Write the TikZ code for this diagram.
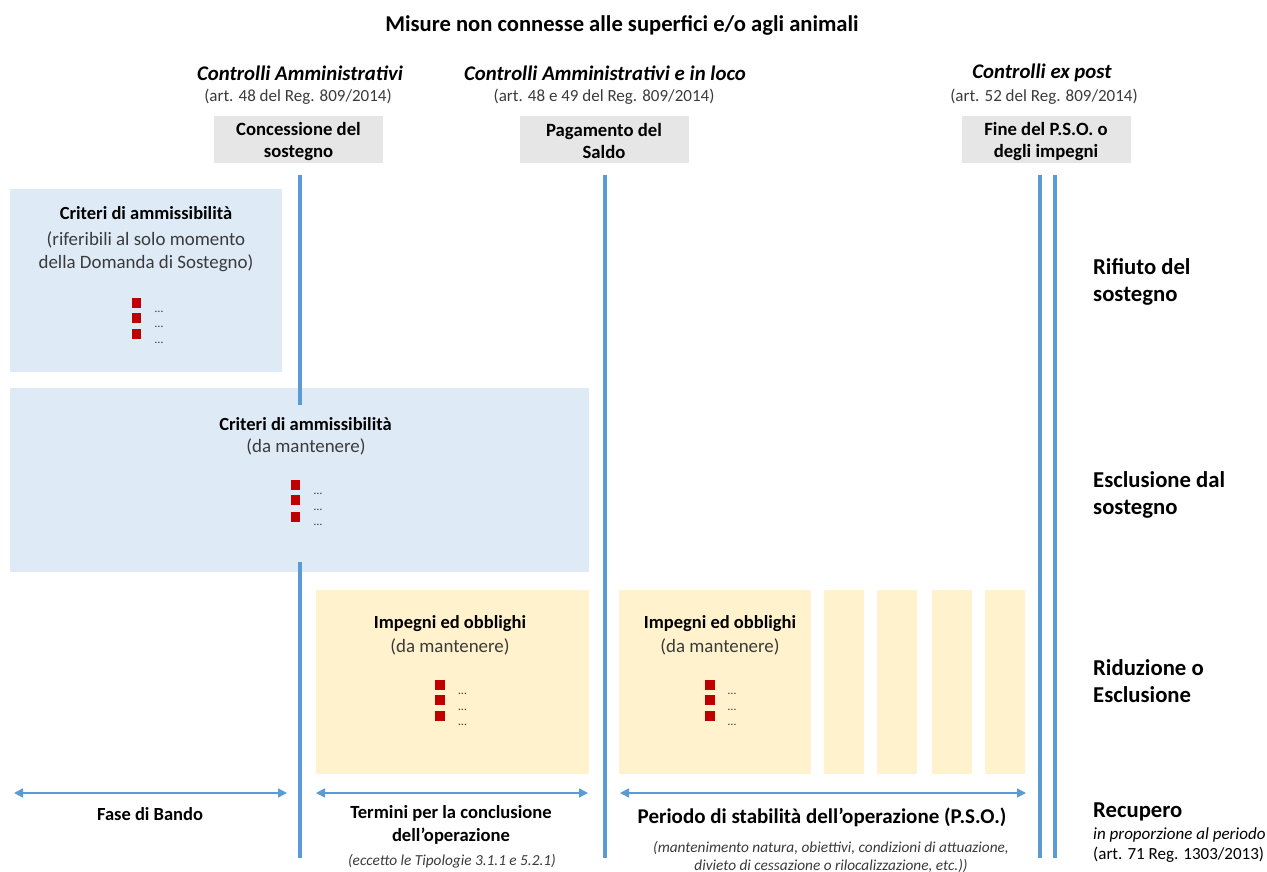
\documentclass[tikz,border=0pt]{standalone}
\usepackage{fontspec}
\setmainfont{Carlito}
\usetikzlibrary{arrows.meta}
\definecolor{lblue}{HTML}{DEEBF7}
\definecolor{lyellow}{HTML}{FFF2CC}
\definecolor{lgray}{HTML}{E7E6E6}
\definecolor{lineblue}{HTML}{5B9BD5}
\definecolor{sqred}{HTML}{C00000}
\definecolor{txtgray}{HTML}{3A3A3A}
\tikzset{
  txt/.style={inner sep=0pt, align=center, text=black},
  boxblue/.style={fill=lblue, draw=none, inner sep=0pt},
  boxyellow/.style={fill=lyellow, draw=none, inner sep=0pt},
  graybox/.style={fill=lgray, draw=none, inner sep=0pt, minimum width=169pt, minimum height=47pt},
  graytxt/.style={txt, font=\fontsize{18.7}{22}\selectfont\bfseries},
  vline/.style={draw=lineblue, line width=4pt},
  dimarrow/.style={draw=lineblue, line width=1.5pt, {Triangle[length=9pt,width=9pt]}-{Triangle[length=9pt,width=9pt]}},
  sq/.style={fill=sqred, draw=none, inner sep=0pt, minimum size=9.5pt},
  dots/.style={inner sep=0pt, font=\fontsize{12}{12}\selectfont, text=txtgray},
  boxtitle/.style={txt, font=\fontsize{18.5}{23}\selectfont\bfseries},
  boxsub/.style={txt, font=\fontsize{18.9}{23}\selectfont, text=txtgray},
  hdr/.style={txt, font=\fontsize{20.8}{24}\selectfont\bfseries\itshape},
  hsub/.style={txt, font=\fontsize{17}{20}\selectfont, text=txtgray},
  rlabel/.style={inner sep=0pt, align=left, anchor=west, font=\fontsize{22.7}{27}\selectfont\bfseries},
}
\begin{document}
\begin{tikzpicture}[x=1pt,y=-1pt]
\useasboundingbox (0,0) rectangle (1267,872);
% title
\node[txt, font=\fontsize{22.6}{26}\selectfont\bfseries] (title) at (622,25) {Misure non connesse alle superfici e/o agli animali};
% headers
\node[hdr] (h1) at (300,73) {Controlli Amministrativi};
\node[hsub] (s1) at (298,97) {(art. 48 del Reg. 809/2014)};
\node[hdr] (h2) at (605,73) {Controlli Amministrativi e in loco};
\node[hsub] (s2) at (604,97) {(art. 48 e 49 del Reg. 809/2014)};
\node[hdr] (h3) at (1042,73) {Controlli ex post};
\node[hsub] (s3) at (1044,97) {(art. 52 del Reg. 809/2014)};
% gray boxes
\node[graybox] (g1) at (298.5,139.5) {};
\node[graybox] (g2) at (604,139.5) {};
\node[graybox] (g3) at (1046,139.5) {};
\node[graytxt] (g1t) at (298.5,141.5) {Concessione del\\sostegno};
\node[graytxt] (g2t) at (604,141.5) {Pagamento del\\Saldo};
\node[graytxt] (g3t) at (1046,141.5) {Fine del P.S.O. o\\degli impegni};
% vertical lines (coordinates)
\coordinate (v1t) at (300,175); \coordinate (v1m) at (300,405);
\coordinate (v1n) at (300,562); \coordinate (v1b) at (300,858);
\coordinate (v2t) at (605,175); \coordinate (v2b) at (605,858);
\coordinate (v3t) at (1040,175); \coordinate (v3b) at (1040,858);
\coordinate (v4t) at (1055,175); \coordinate (v4b) at (1055,858);
% boxes
\node[boxblue, minimum width=272pt, minimum height=183pt] (bA) at (146,280.5) {};
\node[boxblue, minimum width=579pt, minimum height=184pt] (bB) at (299.5,480) {};
\node[boxyellow, minimum width=273pt, minimum height=184pt] (bC) at (452.5,682) {};
\node[boxyellow, minimum width=192pt, minimum height=184pt] (bD) at (715,682) {};
\node[boxyellow, minimum width=40pt, minimum height=184pt] (st1) at (844,682) {};
\node[boxyellow, minimum width=40pt, minimum height=184pt] (st2) at (897,682) {};
\node[boxyellow, minimum width=40pt, minimum height=184pt] (st3) at (951.5,682) {};
\node[boxyellow, minimum width=40pt, minimum height=184pt] (st4) at (1004.5,682) {};
% vertical lines
\draw[vline] (v1t) -- (v1m);
\draw[vline] (v1n) -- (v1b);
\draw[vline] (v2t) -- (v2b);
\draw[vline] (v3t) -- (v3b);
\draw[vline] (v4t) -- (v4b);
% box A content
\node[boxtitle] (tA) at (146,213) {Criteri di ammissibilità};
\node[boxsub] (sA) at (146,251.5) {(riferibili al solo momento\\della Domanda di Sostegno)};
\node[sq] (qA1) at (136.5,303) {};
\node[sq] (qA2) at (136.5,318) {};
\node[sq] (qA3) at (136.5,334) {};
\node[dots] (dA1) at (159,312) {…};
\node[dots] (dA2) at (159,327) {…};
\node[dots] (dA3) at (159,343) {…};
% box B content
\node[boxtitle] (tB) at (305.5,424) {Criteri di ammissibilità};
\node[boxsub] (sB) at (306,447) {(da mantenere)};
\node[sq] (qB1) at (295.5,485) {};
\node[sq] (qB2) at (295.5,500) {};
\node[sq] (qB3) at (295.5,517) {};
\node[dots] (dB1) at (318,494) {…};
\node[dots] (dB2) at (318,510) {…};
\node[dots] (dB3) at (318,525) {…};
% box C content
\node[boxtitle] (tC) at (450,624) {Impegni ed obblighi};
\node[boxsub] (sC) at (450,647) {(da mantenere)};
\node[sq] (qC1) at (440,685) {};
\node[sq] (qC2) at (440,700) {};
\node[sq] (qC3) at (440,716) {};
\node[dots] (dC1) at (462.5,694) {…};
\node[dots] (dC2) at (462.5,710) {…};
\node[dots] (dC3) at (462.5,725) {…};
% box D content
\node[boxtitle] (tD) at (720,624) {Impegni ed obblighi};
\node[boxsub] (sD) at (720,647) {(da mantenere)};
\node[sq] (qD1) at (710,685) {};
\node[sq] (qD2) at (710,700) {};
\node[sq] (qD3) at (710,716) {};
\node[dots] (dD1) at (732,694) {…};
\node[dots] (dD2) at (732,710) {…};
\node[dots] (dD3) at (732,725) {…};
% arrows
\coordinate (a1l) at (14,793); \coordinate (a1r) at (287,793);
\coordinate (a2l) at (316,793); \coordinate (a2r) at (588,793);
\coordinate (a3l) at (620,793); \coordinate (a3r) at (1026,793);
\draw[dimarrow] (a1l) -- (a1r);
\draw[dimarrow] (a2l) -- (a2r);
\draw[dimarrow] (a3l) -- (a3r);
% bottom labels
\node[txt, font=\fontsize{18.5}{22.5}\selectfont\bfseries] (l1) at (150,814) {Fase di Bando};
\node[txt, font=\fontsize{18.6}{22.5}\selectfont\bfseries] (l2) at (451,825) {Termini per la conclusione\\dell’operazione};
\node[txt, font=\fontsize{15.3}{18}\selectfont\itshape, text=txtgray] (l2s) at (452,861) {(eccetto le Tipologie 3.1.1 e 5.2.1)};
\node[txt, font=\fontsize{21}{25}\selectfont\bfseries] (l3) at (822,817) {Periodo di stabilità dell’operazione (P.S.O.)};
\node[txt, font=\fontsize{15.3}{18}\selectfont\itshape, text=txtgray] (l3s) at (831,857) {(mantenimento natura, obiettivi, condizioni di attuazione,\\divieto di cessazione o rilocalizzazione, etc.))};
% right labels
\node[rlabel] (r1) at (1093,281.5) {Rifiuto del\\sostegno};
\node[rlabel] (r2) at (1093,495) {Esclusione dal\\sostegno};
\node[rlabel] (r3) at (1093,681.5) {Riduzione o\\Esclusione};
\node[rlabel] (r4) at (1093,812) {Recupero};
\node[inner sep=0pt, align=left, anchor=west, font=\fontsize{17}{20}\selectfont\itshape] (r4a) at (1093,835) {in proporzione al periodo};
\node[inner sep=0pt, align=left, anchor=west, font=\fontsize{17}{20}\selectfont] (r4b) at (1093,855) {(art. 71 Reg. 1303/2013)};
\end{tikzpicture}
\end{document}
